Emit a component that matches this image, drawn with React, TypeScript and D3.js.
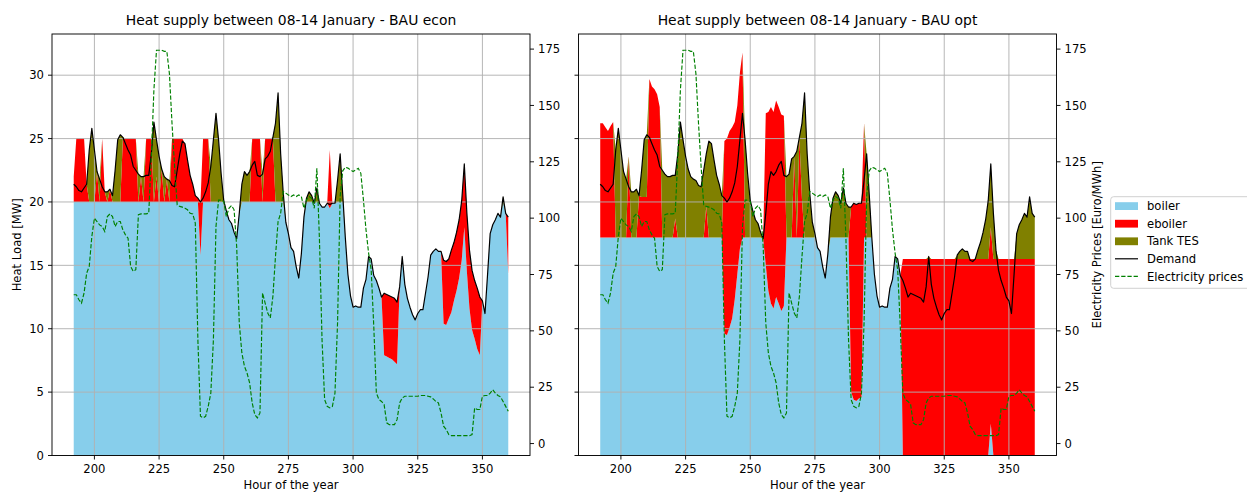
import React from 'react';
import * as d3 from 'd3';

// Hours of the year covered by the week 08-14 January
const FIRST_HOUR = 192;
const LAST_HOUR = 360;
const HOURS = d3.range(FIRST_HOUR, LAST_HOUR + 1);

// Heat demand [MW], shared by both scenarios
const DEMAND = [
  /* 192 */ 21.4, 21.2, 20.9, 20.8, 21.1, 21.4, 24.1, 25.8,
  /* 200 */ 24.1, 22.4, 21.8, 21.2, 20.8, 20.8, 21.0, 20.5, 22.5, 24.9,
  /* 210 */ 25.3, 25.1, 24.6, 24.1, 23.7, 22.8, 22.5, 22.2, 22.0, 22.0,
  /* 220 */ 22.1, 22.1, 23.8, 26.3, 24.9, 23.6, 22.6, 22.0, 21.8, 21.7,
  /* 230 */ 21.3, 21.2, 22.5, 23.8, 24.8, 24.6, 23.3, 22.1, 21.4, 20.5,
  /* 240 */ 20.3, 20.0, 20.3, 20.8, 21.5, 22.8, 24.9, 27.0, 24.9, 22.2,
  /* 250 */ 20.1, 19.3, 18.6, 18.3, 17.6, 17.1, 19.1, 21.4, 22.4, 22.1,
  /* 260 */ 22.4, 22.9, 23.2, 22.1, 22.0, 22.2, 23.4, 23.6, 24.0, 25.1,
  /* 270 */ 26.2, 28.6, 23.8, 20.7, 18.4, 17.5, 16.4, 16.1, 14.9, 14.0,
  /* 280 */ 15.9, 18.8, 20.3, 20.8, 20.5, 19.9, 21.1, 19.9, 19.6, 19.6,
  /* 290 */ 19.9, 19.8, 19.9, 19.9, 21.7, 23.8, 20.6, 17.2, 14.3, 12.6,
  /* 300 */ 11.7, 11.8, 11.7, 11.7, 13.2, 13.9, 15.7, 15.5, 14.2, 13.8,
  /* 310 */ 13.2, 12.5, 12.8, 12.7, 12.6, 12.5, 12.4, 12.1, 13.3, 15.7,
  /* 320 */ 13.5, 12.4, 11.7, 11.1, 10.7, 11.2, 11.5, 11.5, 12.8, 14.1,
  /* 330 */ 15.8, 16.1, 16.3, 16.1, 16.1, 15.4, 15.3, 15.5, 16.2, 16.8,
  /* 340 */ 17.6, 18.6, 20.1, 23.0, 19.1, 16.2, 14.6, 13.8, 13.2, 12.5,
  /* 350 */ 12.2, 11.2, 14.3, 17.5, 18.2, 18.6, 19.1, 18.8, 20.4, 19.1,
  /* 360 */ 18.8,
];

// Day-ahead electricity price [Euro/MWh]
const PRICE = [
  /* 192 */ 66, 66, 63.8, 62.3, 66.8, 75.6, 78.6, 91.9,
  /* 200 */ 100, 98.5, 97, 96.3, 94.1, 100.7, 101.9, 100.7, 96.3, 98.5,
  /* 210 */ 98.5, 94.8, 92.6, 91.1, 78.6, 76.4, 77.1, 101.5, 101.9, 101.9,
  /* 220 */ 101.9, 102.2, 127, 157, 174.5, 174.5, 174.5, 174, 174, 164,
  /* 230 */ 142, 122.9, 105.9, 105.2, 104.9, 104.4, 103.7, 102.2, 101.9, 97.8,
  /* 240 */ 46, 12.1, 11.4, 12.1, 16.5, 22.4, 46, 96.3, 108, 108,
  /* 250 */ 107.4, 100.7, 104.4, 105.6, 103.7, 87.4, 53.5, 40.2, 34.3, 31.3,
  /* 260 */ 26.9, 18, 12.8, 11.4, 13.6, 66.8, 62.3, 57.9, 55.7, 65.3,
  /* 270 */ 83, 98.5, 102.2, 111.8, 111.1, 110.3, 109.6, 110.3, 109.6, 110.3,
  /* 280 */ 109.6, 104.4, 108.1, 109.6, 108.8, 104.4, 122.1, 90.4, 46, 19.5,
  /* 290 */ 16.5, 15.8, 16.5, 22.4, 53.5, 109.6, 121, 122.6, 122.2, 121.4,
  /* 300 */ 120.7, 121.4, 122.1, 119.9, 108.1, 94.8, 84.5, 77.1, 52, 22.4,
  /* 310 */ 19.5, 18.7, 17.3, 9.2, 8.4, 8.4, 8.4, 10.6, 18, 20.2,
  /* 320 */ 21, 21, 21, 21, 21, 21, 21.3, 21.3, 21.3, 21,
  /* 330 */ 20.7, 19.8, 18.7, 18, 13.6, 7.7, 6.2, 4, 3.5, 3.5,
  /* 340 */ 3.5, 3.5, 3.5, 3.5, 3.5, 3.5, 4, 15.8, 15.1, 15.1,
  /* 350 */ 21, 21.3, 21.3, 22.4, 23.9, 22.4, 21.3, 20.7, 18.7, 16.5,
  /* 360 */ 14.3,
];

// BAU econ: heat supplied by each unit [MW]
const ECON_BOILER = [
  /* 192 */ 20, 20, 20, 20, 20, 20, 20, 20,
  /* 200 */ 20, 20, 20, 20, 20, 20, 20, 20, 20, 20,
  /* 210 */ 20, 20, 20, 20, 20, 20, 20, 20, 20, 20,
  /* 220 */ 20, 20, 20, 20, 20, 20, 20, 20, 20, 20,
  /* 230 */ 20, 20, 20, 20, 20, 20, 20, 20, 20, 20,
  /* 240 */ 20, 15.8, 20, 20, 20, 20, 20, 20, 20, 20,
  /* 250 */ 20, 19.3, 18.6, 18.3, 17.6, 17.1, 19.1, 20, 20, 20,
  /* 260 */ 20, 20, 20, 20, 20, 20, 20, 20, 20, 20,
  /* 270 */ 20, 20, 20, 20, 18.4, 17.5, 16.4, 16.1, 14.9, 14.0,
  /* 280 */ 15.9, 18.8, 20, 20, 20, 19.9, 20, 19.9, 19.6, 19.6,
  /* 290 */ 19.9, 19.5, 19.9, 19.9, 20, 20, 20, 17.2, 14.3, 12.6,
  /* 300 */ 11.7, 11.8, 11.7, 11.7, 13.2, 13.9, 15.7, 15.5, 14.2, 13.8,
  /* 310 */ 13.2, 12.5, 7.9, 7.8, 7.7, 7.6, 7.4, 7.2, 13.3, 15.7,
  /* 320 */ 13.5, 12.4, 11.7, 11.1, 10.7, 11.2, 11.5, 11.5, 12.8, 14.1,
  /* 330 */ 15.8, 16.1, 16.3, 16.1, 16.1, 10.4, 10.3, 10.8, 11.3, 12.2,
  /* 340 */ 13.0, 14.0, 15.4, 18.0, 14.5, 11.6, 9.9, 9.2, 8.4, 7.9,
  /* 350 */ 12.2, 11.2, 14.3, 17.5, 18.2, 18.6, 19.1, 18.8, 20, 19.1,
  /* 360 */ 14.3,
];

const ECON_EBOILER = [
  /* 192 */ 2.0, 5, 5, 5, 5, 1.4, 0, 0,
  /* 200 */ 0, 2.4, 0, 5, 0.8, 0, 1.0, 0, 0, 0,
  /* 210 */ 0, 5, 5, 5, 5, 5, 5, 0, 2.0, 0,
  /* 220 */ 5, 5, 5, 0, 2, 0, 2.6, 0, 1.8, 0,
  /* 230 */ 5, 5, 5, 5, 5, 4.6, 3.3, 2.1, 1.4, 0.5,
  /* 240 */ 0.3, 4.2, 5, 5, 5, 0, 0, 0, 0, 0,
  /* 250 */ 0, 0, 0, 0, 0, 0, 0, 0, 0, 0,
  /* 260 */ 0, 5, 5, 5, 5, 0, 5, 5, 5, 5,
  /* 270 */ 0, 0, 0, 0, 0, 0, 0, 0, 0, 0,
  /* 280 */ 0, 0, 0, 0, 0, 0, 0, 0, 0, 0,
  /* 290 */ 0, 4.6, 0, 0, 0, 0, 0, 0, 0, 0,
  /* 300 */ 0, 0, 0, 0, 0, 0, 0, 0, 0, 0,
  /* 310 */ 0, 0, 4.9, 4.9, 4.9, 4.9, 5.0, 4.9, 0, 0,
  /* 320 */ 0, 0, 0, 0, 0, 0, 0, 0, 0, 0,
  /* 330 */ 0, 0, 0, 0, 0, 5.0, 5.0, 4.7, 4.9, 4.6,
  /* 340 */ 4.6, 4.6, 4.7, 5.0, 4.6, 4.6, 4.7, 4.6, 4.8, 4.6,
  /* 350 */ 0, 0, 0, 0, 0, 0, 0, 0, 0, 0,
  /* 360 */ 4.5,
];

const ECON_TES = [
  /* 192 */ 0, 0, 0, 0, 0, 0, 4.1, 5.8,
  /* 200 */ 4.1, 0, 1.8, 0, 0, 0.8, 0, 0.5, 2.5, 4.9,
  /* 210 */ 5.3, 0.1, 0, 0, 0, 0, 0, 2.2, 0, 2.0,
  /* 220 */ 0, 0, 0, 6.3, 2.9, 3.6, 0, 2.0, 0, 1.7,
  /* 230 */ 0, 0, 0, 0, 0, 0, 0, 0, 0, 0,
  /* 240 */ 0, 0, 0, 0, 0, 2.8, 4.9, 7.0, 4.9, 2.2,
  /* 250 */ 0.1, 0, 0, 0, 0, 0, 0, 1.4, 2.4, 2.1,
  /* 260 */ 2.4, 0, 0, 0, 0, 2.2, 0, 0, 0, 0.1,
  /* 270 */ 6.2, 8.6, 3.8, 0.7, 0, 0, 0, 0, 0, 0,
  /* 280 */ 0, 0, 0.3, 0.8, 0.5, 0, 1.1, 0, 0, 0,
  /* 290 */ 0, 0, 0, 0, 1.7, 3.8, 0.6, 0, 0, 0,
  /* 300 */ 0, 0, 0, 0, 0, 0, 0, 0, 0, 0,
  /* 310 */ 0, 0, 0, 0, 0, 0, 0, 0, 0, 0,
  /* 320 */ 0, 0, 0, 0, 0, 0, 0, 0, 0, 0,
  /* 330 */ 0, 0, 0, 0, 0, 0, 0, 0, 0, 0,
  /* 340 */ 0, 0, 0, 0, 0, 0, 0, 0, 0, 0,
  /* 350 */ 0, 0, 0, 0, 0, 0, 0, 0, 0.4, 0,
  /* 360 */ 0,
];

// BAU opt: heat supplied by each unit [MW]
const OPT_BOILER = [
  /* 192 */ 17.2, 17.2, 17.2, 17.2, 17.2, 17.2, 17.2, 17.2,
  /* 200 */ 17.2, 17.2, 17.2, 17.2, 17.2, 17.2, 17.2, 17.2, 17.2, 17.2,
  /* 210 */ 17.2, 17.2, 17.2, 17.2, 17.2, 17.2, 17.2, 17.2, 17.2, 17.2,
  /* 220 */ 17.2, 17.2, 17.2, 17.2, 17.2, 17.2, 17.2, 17.2, 17.2, 17.2,
  /* 230 */ 17.2, 17.2, 17.2, 17.2, 17.2, 17.2, 17.2, 17.2, 17.2, 17.2,
  /* 240 */ 9.6, 9.5, 10.1, 10.8, 12.3, 14.3, 16.3, 17.2, 17.2, 17.2,
  /* 250 */ 17.2, 17.2, 17.2, 17.2, 17.2, 17.1, 15.0, 13.0, 12.0, 11.6,
  /* 260 */ 12.5, 12.0, 11.4, 11.8, 17.2, 17.2, 17.2, 17.2, 17.2, 17.2,
  /* 270 */ 17.2, 17.2, 17.2, 17.2, 17.2, 17.2, 16.4, 16.1, 14.9, 14.0,
  /* 280 */ 15.9, 17.2, 17.2, 17.2, 17.2, 17.2, 17.2, 17.2, 17.2, 5.0,
  /* 290 */ 4.4, 4.3, 4.5, 4.6, 17.2, 17.2, 17.2, 17.2, 14.3, 12.6,
  /* 300 */ 11.7, 11.8, 11.7, 11.7, 13.2, 13.9, 15.7, 15.5, 14.2, 0,
  /* 310 */ 0, 0, 0, 0, 0, 0, 0, 0, 0, 0,
  /* 320 */ 0, 0, 0, 0, 0, 0, 0, 0, 0, 0,
  /* 330 */ 0, 0, 0, 0, 0, 0, 0, 0, 0, 0,
  /* 340 */ 0, 0, 0, 2.5, 0, 0, 0, 0, 0, 0,
  /* 350 */ 0, 0, 0, 0, 0, 0, 0, 0, 0, 0,
  /* 360 */ 0,
];

const OPT_EBOILER = [
  /* 192 */ 9.0, 9.0, 8.7, 8.4, 8.8, 9.1, 0, 0,
  /* 200 */ 0, 0, 0, 6.4, 0, 0, 0, 3.3, 3.2, 3.2,
  /* 210 */ 3.2, 12.5, 11.9, 11.7, 11.3, 10.3, 0, 0, 0, 0,
  /* 220 */ 0, 1.5, 0, 0, 0, 0, 0, 0, 0, 0,
  /* 230 */ 0, 0, 0, 2.5, 0, 0, 0, 0, 0, 0,
  /* 240 */ 15.2, 15.5, 15.5, 15.1, 14.0, 13.3, 13.9, 14.6, 0, 0,
  /* 250 */ 0, 0, 0, 0, 0, 0, 12.0, 14.1, 15.5, 15.5,
  /* 260 */ 15.5, 15.5, 15.5, 15.0, 0, 0, 0, 6.4, 0, 7.9,
  /* 270 */ 3.0, 0, 0, 0, 0, 0, 0, 0, 0, 0,
  /* 280 */ 0, 0, 0, 0, 0, 0, 0, 0, 0, 14.6,
  /* 290 */ 15.5, 15.5, 15.4, 15.3, 9.0, 0, 0, 0, 0, 0,
  /* 300 */ 0, 0, 0, 0, 0, 0, 0, 0, 0, 15.5,
  /* 310 */ 15.5, 15.5, 15.5, 15.5, 15.5, 15.5, 15.5, 15.5, 15.5, 15.5,
  /* 320 */ 15.5, 15.5, 15.5, 15.5, 15.5, 15.5, 15.5, 15.5, 15.5, 15.5,
  /* 330 */ 15.5, 15.5, 15.5, 15.5, 15.5, 15.5, 15.5, 15.5, 15.5, 15.5,
  /* 340 */ 15.5, 15.5, 15.5, 15.5, 15.5, 15.5, 15.5, 15.5, 15.5, 15.5,
  /* 350 */ 15.5, 15.5, 15.5, 15.5, 15.5, 15.5, 15.5, 15.5, 15.5, 15.5,
  /* 360 */ 15.5,
];

const OPT_TES = [
  /* 192 */ 0, 0, 0, 0, 0, 0, 6.9, 8.6,
  /* 200 */ 6.9, 5.2, 4.6, 0, 3.6, 3.6, 3.8, 0, 2.1, 4.5,
  /* 210 */ 4.9, 0, 0, 0, 0, 0, 5.3, 5.0, 4.8, 4.8,
  /* 220 */ 4.9, 3.4, 6.6, 9.1, 7.7, 6.4, 5.4, 4.8, 4.6, 4.5,
  /* 230 */ 4.1, 4.0, 5.3, 4.1, 7.6, 7.4, 6.1, 4.9, 4.2, 3.3,
  /* 240 */ 0, 0, 0, 0, 0, 0, 0, 0, 7.7, 5.0,
  /* 250 */ 2.9, 2.1, 1.4, 1.1, 0.4, 0, 0, 0, 0, 0,
  /* 260 */ 0, 0, 0, 0, 4.8, 5.0, 6.2, 0, 6.8, 0,
  /* 270 */ 6.0, 11.4, 6.6, 3.5, 1.2, 0.3, 0, 0, 0, 0,
  /* 280 */ 0, 1.6, 3.1, 3.6, 3.3, 2.7, 3.9, 2.7, 2.4, 0,
  /* 290 */ 0, 0, 0, 0, 0, 6.6, 3.4, 0, 0, 0,
  /* 300 */ 0, 0, 0, 0, 0, 0, 0, 0, 0, 0,
  /* 310 */ 0, 0, 0, 0, 0, 0, 0, 0, 0, 0.2,
  /* 320 */ 0, 0, 0, 0, 0, 0, 0, 0, 0, 0,
  /* 330 */ 0.3, 0.6, 0.8, 0.6, 0.6, 0, 0, 0, 0.7, 1.3,
  /* 340 */ 2.1, 3.1, 4.6, 5.0, 3.6, 0.7, 0, 0, 0, 0,
  /* 350 */ 0, 0, 0, 2.0, 2.7, 3.1, 3.6, 3.3, 4.9, 3.6,
  /* 360 */ 3.3,
];

// Axis ticks
const HOUR_TICKS = [200, 225, 250, 275, 300, 325, 350];
const LOAD_TICKS = [0, 5, 10, 15, 20, 25, 30];
const PRICE_TICKS = [0, 25, 50, 75, 100, 125, 150, 175];

const TITLES = [
  'Heat supply between 08-14 January - BAU econ',
  'Heat supply between 08-14 January - BAU opt',
];

const UNIT_KEYS = ['boiler', 'eboiler', 'tes'] as const;
const UNIT_LABELS: Record<string, string> = { boiler: 'boiler', eboiler: 'eboiler', tes: 'Tank TES' };
const UNIT_COLORS: Record<string, string> = { boiler: '#87ceeb', eboiler: '#ff0000', tes: '#808000' };

const W = 1247;
const H = 493;
const TOP = 34;
const BOTTOM = 455.5;
const X_DOMAIN: [number, number] = [183.6, 368.4];
const LOAD_DOMAIN: [number, number] = [0, 33.25];
const PRICE_DOMAIN: [number, number] = [-5.3, 181.7];
const FONT = "'DejaVu Sans', 'Liberation Sans', sans-serif";
const FS = 11.6;
const TICK = 4;
const PAD = 4.1;
const GRID = '#b0b0b0';
const LW = 0.93;

type Scenario = {
  key: string;
  title: string;
  boiler: number[];
  eboiler: number[];
  tes: number[];
  x0: number;
  x1: number;
  leftLabels: boolean;
  rightTitle: boolean;
};

const SCENARIOS: Scenario[] = [
  { key: 'econ', title: TITLES[0], boiler: ECON_BOILER, eboiler: ECON_EBOILER, tes: ECON_TES, x0: 52, x1: 530, leftLabels: true, rightTitle: false },
  { key: 'opt', title: TITLES[1], boiler: OPT_BOILER, eboiler: OPT_EBOILER, tes: OPT_TES, x0: 578.5, x1: 1056.5, leftLabels: false, rightTitle: true },
];

for (const arr of [DEMAND, PRICE, ECON_BOILER, ECON_EBOILER, ECON_TES, OPT_BOILER, OPT_EBOILER, OPT_TES]) {
  if (arr.length !== HOURS.length) throw new Error(`series length ${arr.length} != ${HOURS.length}`);
}

function Panel({ s }: { s: Scenario }) {
  const x = d3.scaleLinear().domain(X_DOMAIN).range([s.x0, s.x1]);
  const y = d3.scaleLinear().domain(LOAD_DOMAIN).range([BOTTOM, TOP]);
  const yp = d3.scaleLinear().domain(PRICE_DOMAIN).range([BOTTOM, TOP]);

  const rows = HOURS.map((h, i) => ({ hour: h, boiler: s.boiler[i], eboiler: s.eboiler[i], tes: s.tes[i] }));
  const stacked = d3.stack<any>().keys(UNIT_KEYS as unknown as string[])(rows);
  const area = d3
    .area<any>()
    .x((d) => x(d.data.hour))
    .y0((d) => y(d[0]))
    .y1((d) => y(d[1]));
  const demandLine = d3
    .line<number>()
    .x((_, i) => x(HOURS[i]))
    .y((d) => y(d));
  const priceLine = d3
    .line<number>()
    .x((_, i) => x(HOURS[i]))
    .y((d) => yp(d));

  const clipId = `clip-${s.key}`;
  const cx = (s.x0 + s.x1) / 2;
  const cy = (TOP + BOTTOM) / 2;

  return (
    <g>
      <defs>
        <clipPath id={clipId}>
          <rect x={s.x0} y={TOP} width={s.x1 - s.x0} height={BOTTOM - TOP} />
        </clipPath>
      </defs>
      <g clipPath={`url(#${clipId})`}>
        {stacked.map((layer) => (
          <path key={layer.key} d={area(layer) || ''} fill={UNIT_COLORS[layer.key]} stroke="none" />
        ))}
        {HOUR_TICKS.map((t) => (
          <line key={`gx${t}`} x1={x(t)} x2={x(t)} y1={TOP} y2={BOTTOM} stroke={GRID} strokeWidth={LW} />
        ))}
        {LOAD_TICKS.map((t) => (
          <line key={`gy${t}`} x1={s.x0} x2={s.x1} y1={y(t)} y2={y(t)} stroke={GRID} strokeWidth={LW} />
        ))}
        <path d={demandLine(DEMAND) || ''} fill="none" stroke="#000" strokeWidth={1.2} strokeLinejoin="round" />
        <path
          d={priceLine(PRICE) || ''}
          fill="none"
          stroke="#008000"
          strokeWidth={1.16}
          strokeDasharray="4.3,1.9"
        />
      </g>
      <rect x={s.x0} y={TOP} width={s.x1 - s.x0} height={BOTTOM - TOP} fill="none" stroke="#000" strokeWidth={LW} />

      {/* bottom axis */}
      {HOUR_TICKS.map((t) => (
        <g key={`xt${t}`}>
          <line x1={x(t)} x2={x(t)} y1={BOTTOM} y2={BOTTOM + TICK} stroke="#000" strokeWidth={LW} />
          <text x={x(t)} y={BOTTOM + TICK + PAD + 8.9} textAnchor="middle" fontSize={FS} fontFamily={FONT}>
            {t}
          </text>
        </g>
      ))}
      <text x={cx} y={489} textAnchor="middle" fontSize={FS} fontFamily={FONT}>
        Hour of the year
      </text>

      {/* left axis: heat load */}
      {LOAD_TICKS.map((t) => (
        <g key={`yt${t}`}>
          <line x1={s.x0 - TICK} x2={s.x0} y1={y(t)} y2={y(t)} stroke="#000" strokeWidth={LW} />
          {s.leftLabels && (
            <text x={s.x0 - TICK - PAD} y={y(t) + 4.2} textAnchor="end" fontSize={FS} fontFamily={FONT}>
              {t}
            </text>
          )}
        </g>
      ))}
      {s.leftLabels && (
        <text
          transform={`translate(16.5,${cy}) rotate(-90)`}
          textAnchor="middle"
          dominantBaseline="central"
          fontSize={FS}
          fontFamily={FONT}
        >
          Heat Load [MW]
        </text>
      )}

      {/* right axis: electricity price */}
      {PRICE_TICKS.map((t) => (
        <g key={`pt${t}`}>
          <line x1={s.x1} x2={s.x1 + TICK} y1={yp(t)} y2={yp(t)} stroke="#000" strokeWidth={LW} />
          <text x={s.x1 + TICK + PAD} y={yp(t) + 4.2} textAnchor="start" fontSize={FS} fontFamily={FONT}>
            {t}
          </text>
        </g>
      ))}
      {s.rightTitle && (
        <text
          transform={`translate(1097,${cy}) rotate(-90)`}
          textAnchor="middle"
          dominantBaseline="central"
          fontSize={FS}
          fontFamily={FONT}
        >
          Electricity Prices [Euro/MWh]
        </text>
      )}

      <text x={cx} y={24.5} textAnchor="middle" fontSize={13.9} fontFamily={FONT}>
        {s.title}
      </text>
    </g>
  );
}

function Legend() {
  const left = 1110.7;
  const top = 196.7;
  const rowY = (i: number) => 206 + i * 17.6;
  const hx0 = 1115;
  const hx1 = 1138;
  const tx = 1147;
  return (
    <g>
      <rect x={left} y={top} width={150} height={91.6} rx={2.9} fill="#fff" fillOpacity={0.8} stroke="#cccccc" strokeWidth={LW} />
      {UNIT_KEYS.map((k, i) => (
        <g key={k}>
          <rect x={hx0} y={rowY(i) - 3.8} width={hx1 - hx0} height={7.8} fill={UNIT_COLORS[k]} />
          <text x={tx} y={rowY(i) + 4.2} fontSize={FS} fontFamily={FONT}>
            {UNIT_LABELS[k]}
          </text>
        </g>
      ))}
      <line x1={hx0} x2={hx1} y1={rowY(3)} y2={rowY(3)} stroke="#000" strokeWidth={1.2} />
      <text x={tx} y={rowY(3) + 4.2} fontSize={FS} fontFamily={FONT}>
        Demand
      </text>
      <line x1={hx0} x2={hx1} y1={rowY(4)} y2={rowY(4)} stroke="#008000" strokeWidth={1.16} strokeDasharray="4.3,1.9" />
      <text x={tx} y={rowY(4) + 4.2} fontSize={FS} fontFamily={FONT}>
        Electricity prices
      </text>
    </g>
  );
}

export default function App() {
  return (
    <svg
      width={W}
      height={H}
      viewBox={`0 0 ${W} ${H}`}
      style={{ position: 'absolute', left: 0, top: 0, display: 'block', background: '#fff' }}
    >
      <rect x={0} y={0} width={W} height={H} fill="#fff" />
      {SCENARIOS.map((s) => (
        <Panel key={s.key} s={s} />
      ))}
      <Legend />
    </svg>
  );
}
